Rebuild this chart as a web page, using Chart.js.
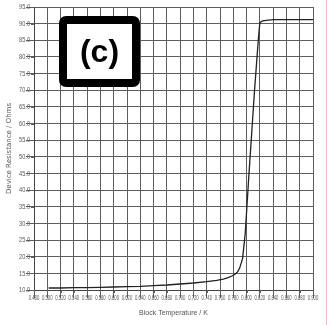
<!DOCTYPE html>
<html>
<head>
<meta charset="utf-8">
<script src="https://cdn.jsdelivr.net/npm/chart.js@4.4.0/dist/chart.umd.min.js"></script>
<style>
  html, body { margin: 0; padding: 0; background: #fff; }
  canvas { display: block; }
</style>
</head>
<body>
<canvas id="rtChart" width="328" height="325"></canvas>
<script>
// block temperature (K) and device resistance (Ohms) along the transition sweep
const blockTemp = [0.502, 0.520, 0.540, 0.560, 0.580, 0.600, 0.620, 0.640, 0.660, 0.680,
                   0.700, 0.720, 0.740, 0.755, 0.765, 0.772, 0.778, 0.783, 0.787, 0.790,
                   0.794, 0.798, 0.803, 0.808, 0.812, 0.815, 0.818, 0.820, 0.824, 0.830,
                   0.840, 0.860, 0.880, 0.900];
const resistance = [10.6, 10.6, 10.7, 10.7, 10.8, 10.9, 11.0, 11.1, 11.3, 11.5,
                    11.8, 12.1, 12.5, 12.9, 13.3, 13.7, 14.2, 14.8, 15.6, 16.8,
                    19.5, 27.0, 43.0, 58.0, 70.0, 78.0, 86.0, 90.3, 90.8, 91.0,
                    91.2, 91.2, 91.2, 91.2];
const panelLabel = '(c)';

const gridColor = '#5e5e5e';
const textColor = '#555';

// squeezed tick text: the labels use a tall condensed face
function squeezedText(ctx, text, x, y, align, squeeze) {
    ctx.save();
    ctx.translate(x, y);
    ctx.scale(squeeze, 1);
    ctx.textAlign = align;
    ctx.fillText(text, 0, 0);
    ctx.restore();
}

// tick marks and tick labels, placed from the chart's own scales
const condensedTicks = {
    id: 'condensedTicks',
    afterDraw(chart) {
        const ctx = chart.ctx;
        const xs = chart.scales.x;
        const ys = chart.scales.y;
        ctx.save();
        ctx.strokeStyle = gridColor;
        ctx.lineWidth = 1;
        ctx.beginPath();
        xs.ticks.forEach(t => {
            const px = Math.round(xs.getPixelForValue(t.value)) + 0.5;
            ctx.moveTo(px, ys.bottom);
            ctx.lineTo(px, ys.bottom + 3);
        });
        ys.ticks.forEach(t => {
            const py = Math.round(ys.getPixelForValue(t.value)) + 0.5;
            ctx.moveTo(xs.left - 3, py);
            ctx.lineTo(xs.left, py);
        });
        ctx.stroke();

        ctx.fillStyle = textColor;
        ctx.textBaseline = 'middle';
        ctx.font = '7.5px "Liberation Sans", Arial, sans-serif';
        xs.ticks.forEach(t => {
            squeezedText(ctx, t.value.toFixed(3), xs.getPixelForValue(t.value), ys.bottom + 7.5, 'center', 0.56);
        });
        ctx.font = '8px "Liberation Sans", Arial, sans-serif';
        ys.ticks.forEach(t => {
            squeezedText(ctx, t.value.toFixed(1), xs.left - 4, ys.getPixelForValue(t.value), 'right', 0.7);
        });
        ctx.restore();
    }
};

// the "(c)" panel tag in a heavy black frame, plus the thin pink edge on the right
const panelTag = {
    id: 'panelTag',
    afterDraw(chart) {
        const ctx = chart.ctx;
        ctx.save();
        ctx.beginPath();
        ctx.roundRect(63, 20, 73, 63, 3);
        ctx.fillStyle = '#fff';
        ctx.fill();
        ctx.lineWidth = 8;
        ctx.strokeStyle = '#000';
        ctx.stroke();
        ctx.fillStyle = '#000';
        ctx.font = 'bold 32px "Liberation Sans", Arial, sans-serif';
        ctx.textAlign = 'center';
        ctx.textBaseline = 'middle';
        ctx.fillText(panelLabel, 99.5, 53);

        ctx.strokeStyle = '#e9b9c1';
        ctx.lineWidth = 1;
        ctx.beginPath();
        ctx.moveTo(326.5, 0);
        ctx.lineTo(326.5, 325);
        ctx.stroke();
        ctx.restore();
    }
};

const points = blockTemp.map((t, i) => ({ x: t, y: resistance[i] }));

new Chart(document.getElementById('rtChart'), {
    type: 'line',
    data: {
        datasets: [{
            data: points,
            borderColor: '#222',
            borderWidth: 1.3,
            pointRadius: 0,
            tension: 0,
            fill: false
        }]
    },
    options: {
        responsive: false,
        animation: false,
        layout: { padding: { left: 0, right: 15, top: 7, bottom: 0 } },
        plugins: {
            legend: { display: false },
            tooltip: { enabled: false }
        },
        scales: {
            x: {
                type: 'linear',
                min: 0.48,
                max: 0.9,
                ticks: { stepSize: 0.02, autoSkip: false, display: false },
                grid: { color: gridColor, lineWidth: 1 },
                border: { color: '#444' },
                title: {
                    display: true,
                    text: 'Block Temperature / K',
                    font: { family: '"Liberation Sans Narrow", "Liberation Sans", sans-serif', size: 7 },
                    color: textColor,
                    padding: 8
                },
                afterFit: scale => { scale.height = 35; }
            },
            y: {
                min: 10,
                max: 95,
                ticks: { stepSize: 5, display: false },
                grid: { color: gridColor, lineWidth: 1 },
                border: { color: '#444' },
                title: {
                    display: true,
                    text: 'Device Resistance / Ohms',
                    font: { family: '"DejaVu Sans", sans-serif', size: 7 },
                    color: textColor,
                    padding: 5
                },
                afterFit: scale => { scale.width = 34; }
            }
        }
    },
    plugins: [condensedTicks, panelTag]
});
</script>
</body>
</html>
